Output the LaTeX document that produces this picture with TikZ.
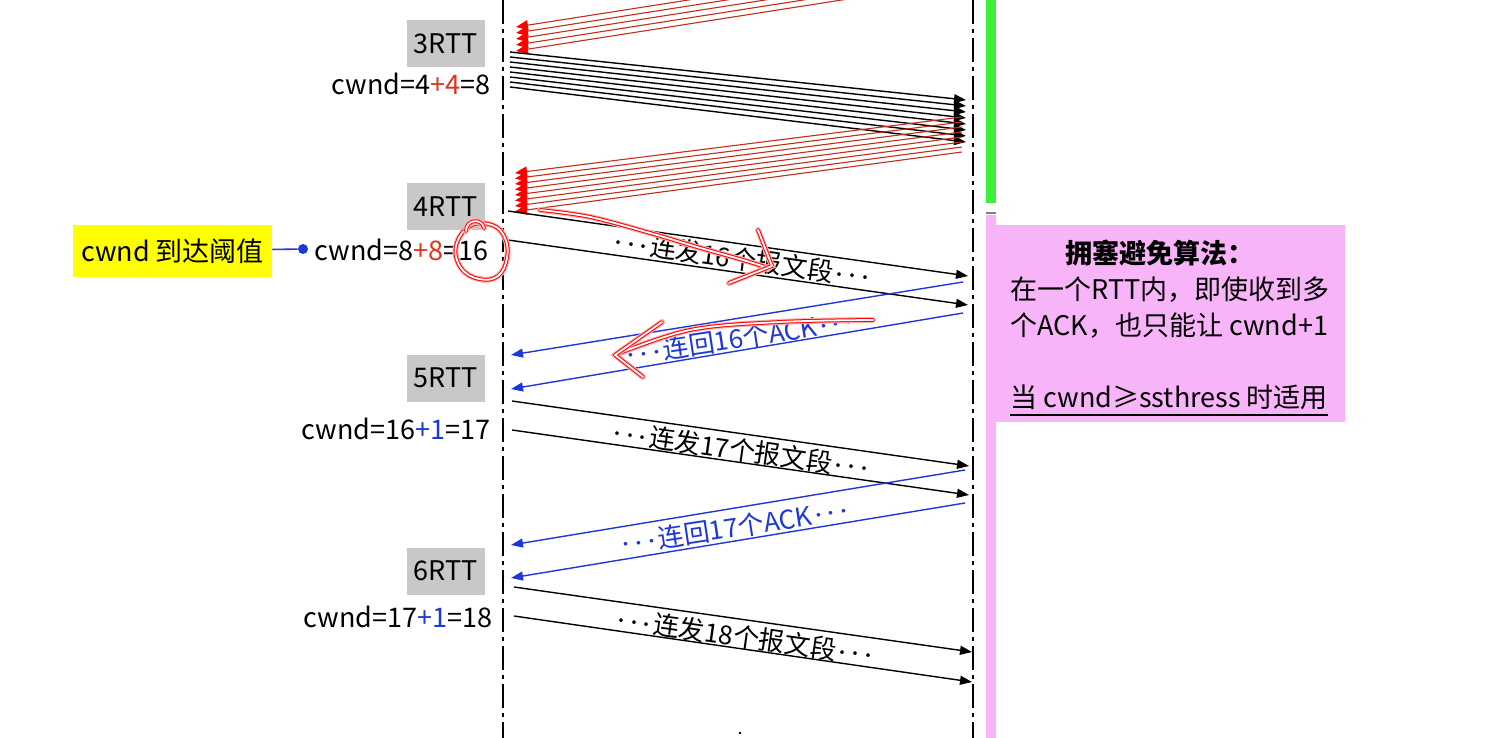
\documentclass[tikz,border=0pt]{standalone}
\usepackage{fontspec}
\setmainfont{Noto Sans CJK SC}
\usetikzlibrary{arrows.meta}
\definecolor{rttgray}{RGB}{200,200,200}
\definecolor{ackblue}{RGB}{30,55,215}
\definecolor{dupred}{RGB}{195,45,25}
\definecolor{plusred}{RGB}{225,50,30}
\definecolor{pinkbg}{RGB}{248,180,248}
\definecolor{bargreen}{RGB}{60,240,60}
\definecolor{hlyellow}{RGB}{255,255,0}
\newcommand{\onedot}{\makebox[6.5pt]{\fontsize{18}{18}\selectfont$\cdot$}}
\newcommand{\cdotrow}{\onedot\onedot\onedot}

\begin{document}
\begin{tikzpicture}[
      x=0.5pt, y=-0.5pt,
      every node/.style={inner sep=0pt, font=\fontsize{13.5}{16}\selectfont},
      rttbox/.style={fill=rttgray, minimum width=39pt, minimum height=23.5pt},
      timeline/.style={line width=0.8pt, dash pattern=on 12pt off 2.5pt on 2pt off 2.5pt},
      sendline/.style={line width=0.7pt, -{Triangle[length=6pt,width=4.5pt]}},
      ackline/.style={ackblue, line width=0.7pt, -{Triangle[length=6pt,width=4.5pt]}},
      dupline/.style={dupred, line width=0.55pt, -{Triangle[length=6pt,width=5pt,color=red]}},
      arrowtext/.style={font=\fontsize{13}{15}\selectfont},
      scribble/.style={draw=red, double=white, line width=0.5pt, double distance=0.9pt,
                       line cap=round, line join=round,
                       preaction={draw=red!30, line width=3pt, line cap=round}}]

        \useasboundingbox (0,0) rectangle (1506,738);

        % time lines
        \coordinate (ltop) at (503,0);
        \coordinate (lbot) at (503,738);
        \coordinate (rtop) at (973,0);
        \coordinate (rbot) at (973,738);
        \draw[timeline] (ltop) -- (lbot);
        \draw[timeline] (rtop) -- (rbot);

        % phase bars
        \fill[bargreen] (986,0) rectangle (996,203);
        \draw[gray, line width=0.8pt] (986,213) -- (996,213);
        \fill[pinkbg] (986,215) rectangle (996,738);
        \node (algo) [fill=pinkbg, anchor=north west, minimum width=174.5pt, minimum height=98.5pt] at (996,225) {};

        \node (algo1) at (1160,253) {\bfseries 拥塞避免算法：};
        \node (algo2) [anchor=west] at (1010,290) {在一个RTT内，即使收到多};
        \node (algo3) [anchor=west] at (1010,326) {个ACK，也只能让 cwnd+1};
        \node (algo4) [anchor=west] at (1010,397) {当 cwnd≥ssthress 时适用};
        \draw[line width=1pt] ([yshift=-2.5pt]algo4.south west) -- ([yshift=-2.5pt]algo4.south east);

        % rounds
        \node (rtt3) [rttbox] at (446,44)  {3RTT};
        \node (rtt4) [rttbox] at (446,207) {4RTT};
        \node (rtt5) [rttbox] at (446,378) {5RTT};
        \node (rtt6) [rttbox] at (446,571) {6RTT};

        \node (cwnd3) [anchor=east] at (491,84)  {cwnd=4{\color{plusred}+4}=8};
        \node (cwnd4) [anchor=east] at (489,250) {cwnd=8{\color{plusred}+8}=16};
        \node (cwnd5) [anchor=east] at (491,429) {cwnd=16{\color{ackblue}+1}=17};
        \node (cwnd6) [anchor=east] at (493,617) {cwnd=17{\color{ackblue}+1}=18};

        \node (thresh) [fill=hlyellow, minimum width=99.5pt, minimum height=26pt] at (172.5,251) {cwnd 到达阈值};
        \node (tdot) [circle, fill=ackblue, minimum size=5pt] at (303,249) {};
        \draw[ackblue, line width=0.8pt] (thresh) -- (tdot);

        % 3RTT
        \begin{scope}
          \clip (0,0) rectangle (1506,738);
          \foreach \i in {0,...,4} {
            \coordinate (up3R\i) at (963,{27+6*\i-70});
            \coordinate (up3L\i) at (516,{27+6*\i});
            \draw[dupline] (up3R\i) -- (up3L\i);
          }
        \end{scope}
        \foreach \i in {0,...,7} {
          \coordinate (s3L\i) at (510,{52+5*\i});
          \coordinate (s3R\i) at (966,{100+6*\i});
          \draw[sendline] (s3L\i) -- (s3R\i);
        }
        % 4RTT
        \foreach \i in {0,...,7} {
          \coordinate (up4R\i) at (962,{117+5*\i});
          \coordinate (up4L\i) at (515,{173+5.5*\i});
          \draw[dupline] (up4R\i) -- (up4L\i);
        }
        \coordinate (s4a) at (508,211);
        \coordinate (s4b) at (968,276);
        \coordinate (s4c) at (508,240);
        \coordinate (s4d) at (968,305);
        \draw[sendline] (s4a) -- (s4b);
        \draw[sendline] (s4c) -- (s4d);
        \node (m4) [arrowtext, rotate=-8.1] at (742,259) {\cdotrow 连发16个报文段\cdotrow};

        \coordinate (k4a) at (963,282);
        \coordinate (k4b) at (511,355);
        \coordinate (k4c) at (963,313);
        \coordinate (k4d) at (511,389);
        \draw[ackline] (k4a) -- (k4b);
        \draw[ackline] (k4c) -- (k4d);
        \node (a4) [arrowtext, text=ackblue, rotate=8.6] at (740,338) {\cdotrow 连回16个ACK\cdotrow};

        % 5RTT
        \coordinate (s5a) at (512,401);
        \coordinate (s5b) at (969,466);
        \coordinate (s5c) at (512,430);
        \coordinate (s5d) at (969,495);
        \draw[sendline] (s5a) -- (s5b);
        \draw[sendline] (s5c) -- (s5d);
        \node (m5) [arrowtext, rotate=-8.1] at (741,450) {\cdotrow 连发17个报文段\cdotrow};

        \coordinate (k5a) at (965,470);
        \coordinate (k5b) at (511,545);
        \coordinate (k5c) at (965,503);
        \coordinate (k5d) at (511,578);
        \draw[ackline] (k5a) -- (k5b);
        \draw[ackline] (k5c) -- (k5d);
        \node (a5) [arrowtext, text=ackblue, rotate=8.6] at (735,527) {\cdotrow 连回17个ACK\cdotrow};

        % 6RTT
        \coordinate (s6a) at (514,587);
        \coordinate (s6b) at (972,652);
        \coordinate (s6c) at (514,616);
        \coordinate (s6d) at (972,682);
        \draw[sendline] (s6a) -- (s6b);
        \draw[sendline] (s6c) -- (s6d);
        \node (m6) [arrowtext, rotate=-8.1] at (745,637) {\cdotrow 连发18个报文段\cdotrow};

        \node (endmark) [circle, fill=black, minimum size=1.3pt] at (740,733) {};

        % hand marks
        \draw[scribble] plot[smooth cycle, tension=0.7] coordinates
          {(470,226) (492,225) (505,238) (507,258) (498,276) (479,279) (461,268) (456,246)};
        \draw[scribble] (466,231) .. controls (466,219) and (482,218) .. (484,228);
        \draw[scribble] plot[smooth, tension=0.6] coordinates
          {(540,210) (590,217) (650,233) (697,247) (743,260) (768,268)};
        \draw[scribble] (758,230) -- (772,266) -- (729,283);
        \draw[scribble] plot[smooth, tension=0.6] coordinates
          {(873,320) (780,322) (690,330) (615,355)};
        \draw[scribble] (662,322) -- (615,355) -- (643,377);

      \end{tikzpicture}
\end{document}
